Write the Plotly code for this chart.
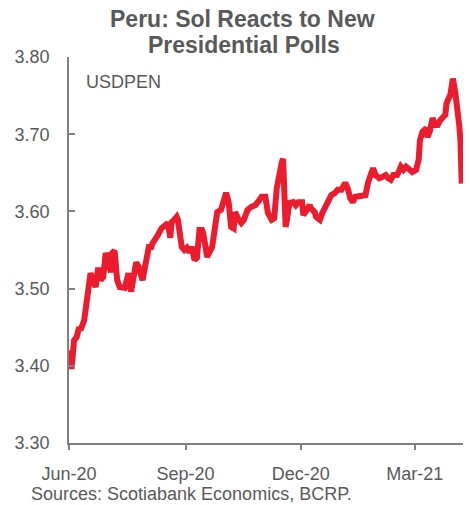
import plotly.graph_objects as go

dates = [
    "2020-06-01", "2020-06-03", "2020-06-05", "2020-06-07", "2020-06-09", "2020-06-10",
    "2020-06-13", "2020-06-15", "2020-06-16", "2020-06-18", "2020-06-20", "2020-06-22",
    "2020-06-24", "2020-06-26", "2020-06-28", "2020-06-30", "2020-07-02", "2020-07-04",
    "2020-07-05", "2020-07-07", "2020-07-09", "2020-07-11", "2020-07-15", "2020-07-17",
    "2020-07-18", "2020-07-20", "2020-07-22", "2020-07-24", "2020-07-26", "2020-07-29",
    "2020-08-03", "2020-08-05", "2020-08-06", "2020-08-08", "2020-08-10", "2020-08-13",
    "2020-08-16", "2020-08-18", "2020-08-20", "2020-08-21", "2020-08-23", "2020-08-25",
    "2020-08-26", "2020-08-29", "2020-08-31", "2020-09-02", "2020-09-04", "2020-09-06",
    "2020-09-08", "2020-09-10", "2020-09-12", "2020-09-14", "2020-09-15", "2020-09-18",
    "2020-09-22", "2020-09-24", "2020-09-26", "2020-09-29", "2020-10-01", "2020-10-03",
    "2020-10-05", "2020-10-07", "2020-10-09", "2020-10-10", "2020-10-13", "2020-10-15",
    "2020-10-17", "2020-10-20", "2020-10-23", "2020-10-26", "2020-10-28", "2020-10-31",
    "2020-11-03", "2020-11-05", "2020-11-08", "2020-11-10", "2020-11-12", "2020-11-14",
    "2020-11-16", "2020-11-17", "2020-11-19", "2020-11-20", "2020-11-22", "2020-11-25",
    "2020-11-27", "2020-11-29", "2020-12-02", "2020-12-03", "2020-12-06", "2020-12-08",
    "2020-12-09", "2020-12-12", "2020-12-13", "2020-12-16", "2020-12-18", "2020-12-20",
    "2020-12-23", "2020-12-25", "2020-12-28", "2020-12-30", "2021-01-02", "2021-01-05",
    "2021-01-07", "2021-01-09", "2021-01-11", "2021-01-13", "2021-01-17", "2021-01-21",
    "2021-01-23", "2021-01-25", "2021-01-27", "2021-01-29", "2021-02-01", "2021-02-04",
    "2021-02-06", "2021-02-08", "2021-02-10", "2021-02-12", "2021-02-15", "2021-02-17",
    "2021-02-18", "2021-02-20", "2021-02-22", "2021-02-25", "2021-02-27", "2021-03-02",
    "2021-03-04", "2021-03-05", "2021-03-07", "2021-03-10", "2021-03-11", "2021-03-13",
    "2021-03-15", "2021-03-17", "2021-03-19", "2021-03-21", "2021-03-23", "2021-03-25",
    "2021-03-26", "2021-03-29", "2021-03-30", "2021-03-31", "2021-04-02", "2021-04-04",
    "2021-04-05", "2021-04-06", "2021-04-07",
]

usdpen = [
    3.420, 3.396, 3.433, 3.437, 3.450, 3.446,
    3.459, 3.481, 3.485, 3.520, 3.511, 3.502,
    3.527, 3.511, 3.515, 3.546, 3.537, 3.521,
    3.546, 3.549, 3.511, 3.502, 3.501, 3.518,
    3.520, 3.496, 3.518, 3.534, 3.528, 3.511,
    3.554, 3.554, 3.559, 3.563, 3.569, 3.578,
    3.582, 3.585, 3.566, 3.586, 3.589, 3.593,
    3.589, 3.554, 3.550, 3.553, 3.547, 3.554,
    3.537, 3.540, 3.576, 3.576, 3.572, 3.541,
    3.554, 3.585, 3.599, 3.602, 3.612, 3.624,
    3.612, 3.580, 3.578, 3.599, 3.589, 3.585,
    3.589, 3.602, 3.606, 3.608, 3.612, 3.619,
    3.619, 3.598, 3.589, 3.591, 3.630, 3.650,
    3.664, 3.668, 3.580, 3.589, 3.611, 3.612,
    3.608, 3.612, 3.612, 3.595, 3.602, 3.608,
    3.604, 3.599, 3.593, 3.589, 3.598, 3.606,
    3.615, 3.621, 3.624, 3.628, 3.628, 3.637,
    3.630, 3.617, 3.612, 3.619, 3.620, 3.621,
    3.637, 3.647, 3.656, 3.647, 3.643, 3.645,
    3.647, 3.643, 3.641, 3.647, 3.647, 3.654,
    3.658, 3.654, 3.658, 3.654, 3.651, 3.654,
    3.667, 3.692, 3.703, 3.708, 3.696, 3.705,
    3.721, 3.712, 3.712, 3.718, 3.722, 3.725,
    3.740, 3.751, 3.761, 3.772, 3.753, 3.731,
    3.712, 3.692, 3.636,
]

title_lines = ["Peru: Sol Reacts to New", "Presidential Polls"]
series_label = "USDPEN"
source_text = "Sources: Scotiabank Economics, BCRP."

GRAY = "#595959"
AXIS = "#808080"
FONT = "Liberation Sans, Arial, sans-serif"

fig = go.Figure()
fig.add_trace(go.Scatter(
    x=dates, y=usdpen, mode="lines",
    line=dict(color="#EC1C2E", width=6),
    showlegend=False, hoverinfo="skip",
))

fig.update_layout(
    width=470, height=505,
    margin=dict(l=69, r=7, t=57, b=62),
    paper_bgcolor="white", plot_bgcolor="white",
    font=dict(family=FONT, size=18, color=GRAY),
    xaxis=dict(
        range=["2020-06-01", "2021-04-08"],
        tick0="2020-06-01", dtick="M3", tickformat="%b-%y",
        ticks="outside", ticklen=5, tickwidth=1.5, tickcolor=AXIS,
        showline=True, linecolor=AXIS, linewidth=1.5,
        showgrid=False, zeroline=False,
        tickfont=dict(family=FONT, size=18, color=GRAY),
        ticklabelstandoff=9,
    ),
    yaxis=dict(
        range=[3.30, 3.80], dtick=0.1, tick0=3.30, tickformat=".2f",
        ticks="inside", ticklen=6, tickwidth=1.5, tickcolor=AXIS,
        showline=True, linecolor=AXIS, linewidth=1.5,
        showgrid=False, zeroline=False,
        tickfont=dict(family=FONT, size=18, color=GRAY),
        ticklabelstandoff=14,
    ),
    annotations=[
        dict(text=title_lines[0], xref="paper", yref="paper", x=0.44, y=1.098,
             xanchor="center", yanchor="middle", showarrow=False,
             font=dict(family=FONT, size=23, color=GRAY, weight="bold")),
        dict(text=title_lines[1], xref="paper", yref="paper", x=0.445, y=1.03,
             xanchor="center", yanchor="middle", showarrow=False,
             font=dict(family=FONT, size=23, color=GRAY, weight="bold")),
        dict(text=series_label, xref="paper", yref="paper", x=0.038, y=0.935,
             xanchor="left", yanchor="middle", showarrow=False,
             font=dict(family=FONT, size=18, color=GRAY)),
        dict(text=source_text, xref="paper", yref="paper",
             x=-0.102, y=-0.133, xanchor="left", yanchor="middle", showarrow=False,
             font=dict(family=FONT, size=18, color=GRAY)),
    ],
)

fig.write_html("out.html")
